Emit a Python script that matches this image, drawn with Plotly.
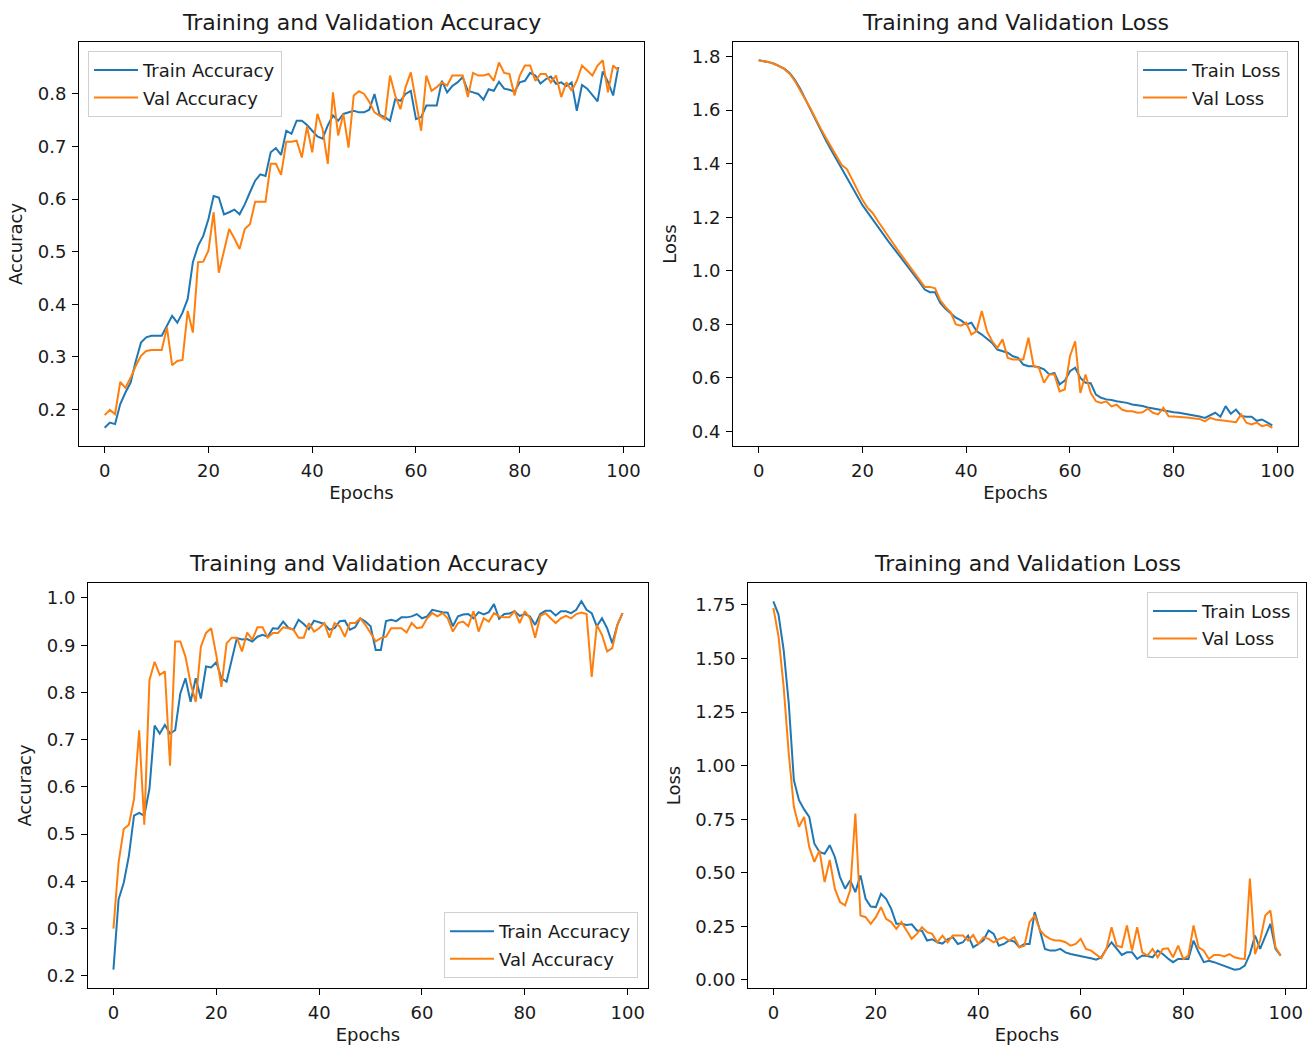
import plotly.graph_objects as go

epochs = list(range(100))

acc1_train = [0.165, 0.175, 0.172, 0.21, 0.232, 0.251, 0.292, 0.327, 0.337, 0.34,
              0.34, 0.34, 0.359, 0.378, 0.365, 0.384, 0.41, 0.48, 0.511, 0.53,
              0.562, 0.606, 0.603, 0.571, 0.575, 0.58, 0.571, 0.59, 0.613, 0.635,
              0.647, 0.644, 0.689, 0.697, 0.684, 0.73, 0.724, 0.749, 0.749, 0.741,
              0.73, 0.719, 0.715, 0.74, 0.759, 0.749, 0.762, 0.765, 0.768, 0.765,
              0.765, 0.77, 0.80, 0.76, 0.756, 0.749, 0.79, 0.787, 0.80, 0.806,
              0.752, 0.756, 0.778, 0.778, 0.778, 0.825, 0.803, 0.815, 0.822, 0.832,
              0.806, 0.803, 0.80, 0.789, 0.809, 0.806, 0.823, 0.81, 0.808, 0.804,
              0.822, 0.825, 0.84, 0.835, 0.82, 0.828, 0.833, 0.819, 0.822, 0.815,
              0.822, 0.768, 0.817, 0.81, 0.797, 0.786, 0.843, 0.823, 0.797, 0.851]
acc1_val = [0.189, 0.199, 0.191, 0.252, 0.241, 0.26, 0.283, 0.302, 0.311, 0.313,
            0.313, 0.313, 0.356, 0.284, 0.292, 0.294, 0.387, 0.346, 0.48, 0.481,
            0.502, 0.575, 0.46, 0.50, 0.543, 0.525, 0.505, 0.543, 0.552, 0.595,
            0.595, 0.595, 0.667, 0.667, 0.646, 0.709, 0.709, 0.711, 0.679, 0.738,
            0.689, 0.762, 0.733, 0.667, 0.803, 0.721, 0.762, 0.698, 0.797, 0.805,
            0.80, 0.785, 0.765, 0.759, 0.752, 0.835, 0.797, 0.771, 0.813, 0.841,
            0.784, 0.73, 0.835, 0.806, 0.813, 0.822, 0.816, 0.835, 0.835, 0.835,
            0.794, 0.84, 0.835, 0.835, 0.838, 0.825, 0.86, 0.84, 0.838, 0.797,
            0.835, 0.854, 0.854, 0.825, 0.838, 0.838, 0.822, 0.835, 0.794, 0.822,
            0.806, 0.825, 0.854, 0.845, 0.835, 0.854, 0.864, 0.803, 0.854, 0.845]

loss1_train = [1.786, 1.783, 1.779, 1.773, 1.765, 1.754, 1.738, 1.712, 1.68, 1.64,
               1.6, 1.56, 1.52, 1.485, 1.45, 1.415, 1.38, 1.345, 1.31, 1.275,
               1.245, 1.218, 1.19, 1.162, 1.135, 1.11, 1.085, 1.06, 1.035, 1.01,
               0.985, 0.958, 0.93, 0.92, 0.92, 0.88, 0.858, 0.84, 0.825, 0.815,
               0.80, 0.806, 0.775, 0.762, 0.745, 0.731, 0.706, 0.70, 0.694, 0.681,
               0.675, 0.65, 0.644, 0.644, 0.64, 0.632, 0.613, 0.619, 0.576, 0.59,
               0.625, 0.638, 0.60, 0.582, 0.58, 0.538, 0.526, 0.52, 0.518, 0.513,
               0.51, 0.507, 0.501, 0.499, 0.495, 0.49, 0.486, 0.482, 0.48, 0.476,
               0.472, 0.47, 0.467, 0.464, 0.46, 0.456, 0.451, 0.46, 0.47, 0.455,
               0.495, 0.466, 0.482, 0.458, 0.455, 0.455, 0.44, 0.445, 0.433, 0.423]
loss1_val = [1.786, 1.783, 1.779, 1.772, 1.764, 1.752, 1.735, 1.708, 1.676, 1.64,
             1.605, 1.565, 1.53, 1.495, 1.46, 1.425, 1.395, 1.38, 1.34, 1.3,
             1.265, 1.235, 1.215, 1.185, 1.155, 1.125, 1.1, 1.072, 1.045, 1.02,
             0.995, 0.968, 0.94, 0.94, 0.935, 0.89, 0.865, 0.845, 0.80, 0.795,
             0.806, 0.762, 0.775, 0.85, 0.775, 0.737, 0.712, 0.744, 0.675, 0.669,
             0.669, 0.669, 0.75, 0.644, 0.638, 0.582, 0.613, 0.613, 0.55, 0.557,
             0.681, 0.737, 0.544, 0.613, 0.544, 0.513, 0.507, 0.513, 0.494, 0.50,
             0.482, 0.476, 0.476, 0.47, 0.472, 0.485, 0.47, 0.464, 0.489, 0.457,
             0.456, 0.455, 0.453, 0.451, 0.449, 0.447, 0.438, 0.451, 0.445, 0.443,
             0.44, 0.437, 0.435, 0.464, 0.433, 0.426, 0.433, 0.42, 0.425, 0.414]

acc2_train = [0.213, 0.362, 0.397, 0.454, 0.539, 0.545, 0.539, 0.596, 0.73, 0.713,
              0.731, 0.713, 0.72, 0.798, 0.83, 0.78, 0.83, 0.787, 0.855, 0.853,
              0.864, 0.83, 0.823, 0.869, 0.915, 0.912, 0.913, 0.908, 0.918, 0.922,
              0.918, 0.936, 0.935, 0.95, 0.937, 0.933, 0.954, 0.945, 0.934, 0.952,
              0.949, 0.945, 0.933, 0.936, 0.951, 0.952, 0.933, 0.938, 0.957, 0.95,
              0.94, 0.89, 0.89, 0.951, 0.954, 0.951, 0.959, 0.959, 0.961, 0.966,
              0.957, 0.961, 0.975, 0.972, 0.97, 0.969, 0.94, 0.961, 0.965, 0.966,
              0.957, 0.97, 0.965, 0.97, 0.987, 0.956, 0.966, 0.967, 0.972, 0.962,
              0.966, 0.961, 0.943, 0.966, 0.973, 0.973, 0.963, 0.972, 0.972, 0.968,
              0.975, 0.993, 0.975, 0.968, 0.94, 0.957, 0.936, 0.904, 0.943, 0.968]
acc2_val = [0.30, 0.44, 0.511, 0.52, 0.574, 0.72, 0.52, 0.826, 0.865, 0.837,
            0.845, 0.645, 0.908, 0.908, 0.876, 0.82, 0.78, 0.897, 0.926, 0.936,
            0.879, 0.812, 0.904, 0.916, 0.916, 0.887, 0.927, 0.912, 0.938, 0.938,
            0.916, 0.926, 0.926, 0.938, 0.936, 0.933, 0.916, 0.916, 0.947, 0.929,
            0.936, 0.947, 0.916, 0.947, 0.94, 0.918, 0.947, 0.947, 0.957, 0.943,
            0.926, 0.908, 0.915, 0.918, 0.936, 0.936, 0.936, 0.927, 0.947, 0.936,
            0.938, 0.957, 0.968, 0.961, 0.968, 0.957, 0.929, 0.947, 0.95, 0.94,
            0.972, 0.929, 0.957, 0.95, 0.968, 0.961, 0.959, 0.959, 0.972, 0.947,
            0.972, 0.957, 0.916, 0.962, 0.968, 0.957, 0.947, 0.957, 0.962, 0.957,
            0.966, 0.969, 0.966, 0.833, 0.943, 0.922, 0.887, 0.894, 0.943, 0.968]

loss2_train = [1.767, 1.705, 1.541, 1.292, 0.933, 0.839, 0.796, 0.761, 0.636, 0.597,
               0.589, 0.629, 0.574, 0.48, 0.426, 0.465, 0.41, 0.488, 0.379, 0.343,
               0.34, 0.402, 0.379, 0.332, 0.262, 0.262, 0.257, 0.26, 0.231, 0.23,
               0.184, 0.19, 0.176, 0.17, 0.19, 0.2, 0.168, 0.176, 0.207, 0.153,
               0.168, 0.185, 0.231, 0.215, 0.16, 0.168, 0.185, 0.18, 0.153, 0.168,
               0.168, 0.317, 0.233, 0.145, 0.137, 0.137, 0.145, 0.129, 0.121, 0.117,
               0.11, 0.106, 0.101, 0.095, 0.106, 0.145, 0.176, 0.145, 0.117, 0.129,
               0.129, 0.098, 0.114, 0.112, 0.106, 0.137, 0.121, 0.10, 0.083, 0.098,
               0.098, 0.098, 0.184, 0.129, 0.083, 0.09, 0.083, 0.075, 0.067, 0.059,
               0.048, 0.051, 0.067, 0.121, 0.207, 0.145, 0.207, 0.262, 0.145, 0.114]
loss2_val = [1.736, 1.604, 1.37, 1.058, 0.808, 0.715, 0.761, 0.621, 0.551, 0.605,
             0.457, 0.56, 0.426, 0.364, 0.348, 0.42, 0.777, 0.301, 0.293, 0.262,
             0.293, 0.34, 0.285, 0.27, 0.239, 0.27, 0.231, 0.192, 0.215, 0.246,
             0.223, 0.215, 0.176, 0.207, 0.176, 0.207, 0.207, 0.207, 0.184, 0.21,
             0.168, 0.199, 0.192, 0.176, 0.19, 0.2, 0.184, 0.2, 0.153, 0.16,
             0.27, 0.301, 0.233, 0.207, 0.192, 0.184, 0.184, 0.176, 0.16, 0.168,
             0.192, 0.145, 0.137, 0.121, 0.101, 0.145, 0.246, 0.16, 0.153, 0.254,
             0.137, 0.246, 0.129, 0.114, 0.145, 0.106, 0.145, 0.148, 0.106, 0.16,
             0.098, 0.114, 0.254, 0.152, 0.137, 0.098, 0.117, 0.117, 0.11, 0.121,
             0.106, 0.10, 0.098, 0.473, 0.121, 0.184, 0.301, 0.324, 0.152, 0.114]

x_ticks = [0, 20, 40, 60, 80, 100]
acc1_ticks = [0.2, 0.3, 0.4, 0.5, 0.6, 0.7, 0.8]
loss1_ticks = [0.4, 0.6, 0.8, 1.0, 1.2, 1.4, 1.6, 1.8]
acc2_ticks = [0.2, 0.3, 0.4, 0.5, 0.6, 0.7, 0.8, 0.9, 1.0]
loss2_ticks = [0.0, 0.25, 0.5, 0.75, 1.0, 1.25, 1.5, 1.75]

for arr in (acc1_train, acc1_val, loss1_train, loss1_val,
            acc2_train, acc2_val, loss2_train, loss2_val):
    assert len(arr) == len(epochs), len(arr)

# The page's body margin is removed below, so the figure fills the window.
OFF = 0
W, H = 1308 - OFF, 1046 - OFF
BLUE, ORANGE = "#1f77b4", "#ff7f0e"
FONT = "DejaVu Sans"
TXT = "#1a1a1a"
FS = 18


def fx(px):
    return (px - OFF) / W


def fy(py):
    return 1 - (py - OFF) / H


panels = [
    dict(train=acc1_train, val=acc1_val, names=("Train Accuracy", "Val Accuracy"),
         title="Training and Validation Accuracy", ytitle="Accuracy",
         box=(79, 644, 42, 447), yticks=acc1_ticks, fmt=".1f",
         leg=dict(x=fx(88), y=fy(51), xanchor="left", yanchor="top")),
    dict(train=loss1_train, val=loss1_val, names=("Train Loss", "Val Loss"),
         title="Training and Validation Loss", ytitle="Loss",
         box=(733, 1298, 42, 447), yticks=loss1_ticks, fmt=".1f",
         leg=dict(x=fx(1288), y=fy(51), xanchor="right", yanchor="top")),
    dict(train=acc2_train, val=acc2_val, names=("Train Accuracy", "Val Accuracy"),
         title="Training and Validation Accuracy", ytitle="Accuracy",
         box=(88, 648, 584, 990), yticks=acc2_ticks, fmt=".1f",
         leg=dict(x=fx(638), y=fy(980), xanchor="right", yanchor="bottom")),
    dict(train=loss2_train, val=loss2_val, names=("Train Loss", "Val Loss"),
         title="Training and Validation Loss", ytitle="Loss",
         box=(748, 1306, 584, 990), yticks=loss2_ticks, fmt=".2f",
         leg=dict(x=fx(1298), y=fy(593), xanchor="right", yanchor="top")),
]

fig = go.Figure()
layout = dict(
    width=W, height=H, autosize=False,
    margin=dict(l=0, r=0, t=0, b=0),
    paper_bgcolor="white", plot_bgcolor="white",
    font=dict(family=FONT, size=FS, color=TXT),
    annotations=[],
)

for i, p in enumerate(panels, start=1):
    s = "" if i == 1 else str(i)
    leg = "legend" if i == 1 else f"legend{i}"
    l, r, t, b = p["box"]
    lo = min(min(p["train"]), min(p["val"]))
    hi = max(max(p["train"]), max(p["val"]))
    pad = 0.05 * (hi - lo)
    for k, (series, name, color) in enumerate(((p["train"], p["names"][0], BLUE),
                                               (p["val"], p["names"][1], ORANGE))):
        fig.add_trace(go.Scatter(x=epochs, y=series, mode="lines", name=name,
                                 line=dict(color=color, width=2),
                                 xaxis="x" + s, yaxis="y" + s, legend=leg,
                                 legendgroup=f"g{i}{k}", showlegend=True))
    common = dict(showline=True, mirror=True, linecolor="black", linewidth=1,
                  ticks="outside", ticklen=6, tickwidth=1, tickcolor="black",
                  showgrid=False, zeroline=False, ticklabelstandoff=2,
                  tickfont=dict(family=FONT, size=FS, color=TXT))
    layout["xaxis" + s] = dict(common, domain=[fx(l), fx(r)], anchor="y" + s,
                               range=[-4.95, 103.95], tickvals=x_ticks,
                               title=dict(text="Epochs", standoff=6,
                                          font=dict(family=FONT, size=FS, color=TXT)))
    layout["yaxis" + s] = dict(common, domain=[fy(b), fy(t)], anchor="x" + s,
                               range=[lo - pad, hi + pad], tickvals=p["yticks"],
                               tickformat=p["fmt"],
                               title=dict(text=p["ytitle"], standoff=10,
                                          font=dict(family=FONT, size=FS, color=TXT)))
    layout[leg] = dict(p["leg"], bgcolor="rgba(255,255,255,0.8)",
                       bordercolor="#d0d0d0", borderwidth=1,
                       font=dict(family=FONT, size=FS, color=TXT),
                       itemwidth=44, traceorder="grouped", tracegroupgap=1)
    layout["annotations"].append(dict(
        text=p["title"], xref="paper", yref="paper",
        x=(fx(l) + fx(r)) / 2, y=fy(t), xanchor="center", yanchor="bottom",
        yshift=5, showarrow=False,
        font=dict(family=FONT, size=22, color=TXT)))

fig.update_layout(**layout)
fig.write_html(
    "out.html",
    config={"displayModeBar": False},
    post_script="document.body.style.margin='0';"
                "document.documentElement.style.overflow='hidden';"
                "document.body.style.overflow='hidden';",
)
